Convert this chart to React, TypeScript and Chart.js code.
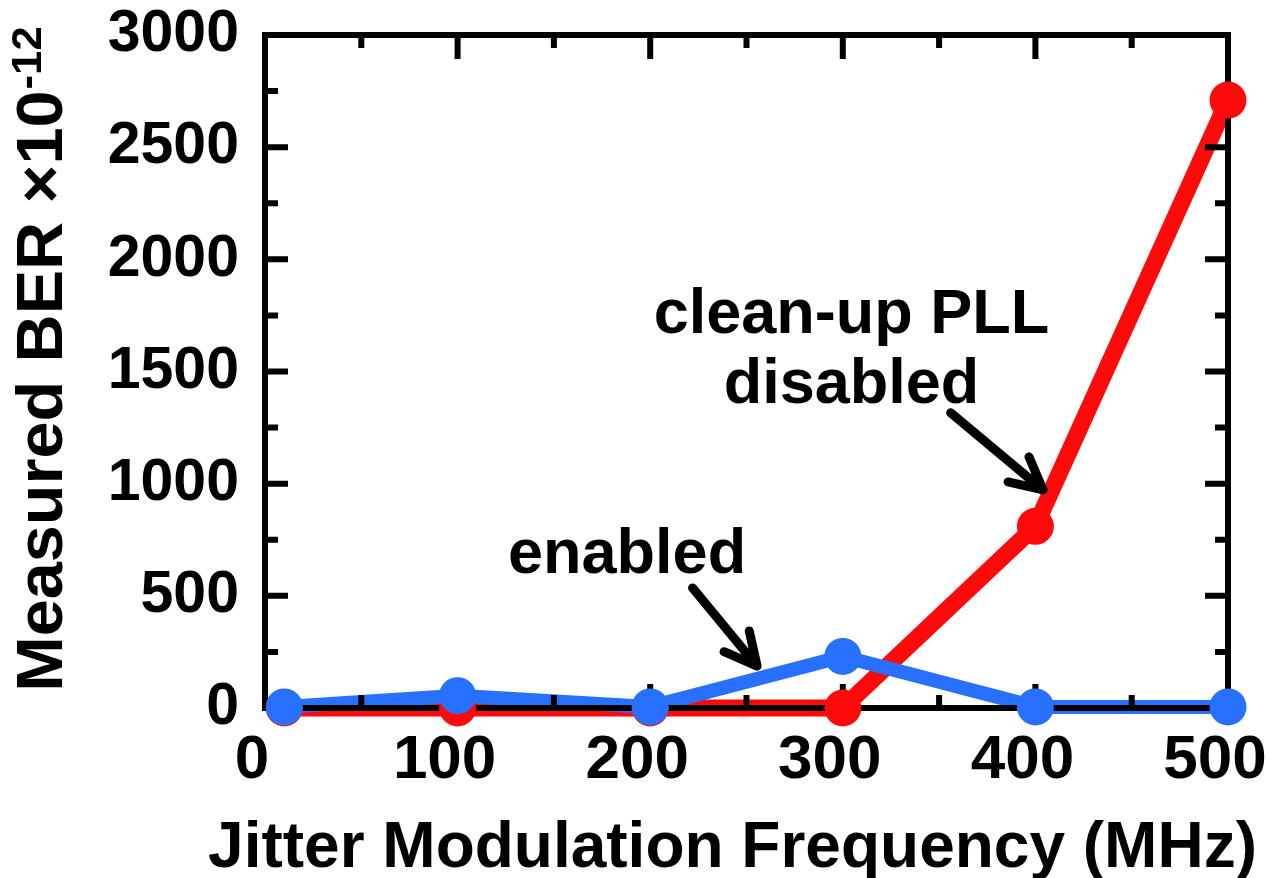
import React, { useEffect, useRef } from "react";
import { Chart, registerables } from "chart.js";

Chart.register(...registerables);

// ---- data ----
const frequencies = [10, 100, 200, 300, 400, 500];
const berDisabled = [0, 0, 0, 0, 810, 2710];
const berEnabled = [5, 55, 5, 230, 5, 5];
const xTickValues = [0, 100, 200, 300, 400, 500];
const yTickValues = [0, 500, 1000, 1500, 2000, 2500, 3000];
const xTitle = "Jitter Modulation Frequency (MHz)";
const yTitleMain = "Measured BER \u00d710";
const yTitleSup = "-12";
const disabledLabelLines = ["clean-up PLL", "disabled"];
const enabledLabelLines = ["enabled"];

// annotation anchors, in data units
const disabledTextAnchor = { x: 304.5, y: 1673 };
const disabledArrowFrom = { x: 356, y: 1316 };
const disabledArrowTo = { x: 404, y: 972 };
const enabledTextAnchor = { x: 188, y: 602 };
const enabledArrowFrom = { x: 222, y: 535 };
const enabledArrowTo = { x: 255.5, y: 187 };

const RED = "#ff0a0a";
const BLUE = "#2870ff";
const FONT = '"Liberation Sans", Arial, Helvetica, sans-serif';

function drawArrow(ctx: CanvasRenderingContext2D, x1: number, y1: number, x2: number, y2: number) {
  const ang = Math.atan2(y1 - y2, x1 - x2);
  const len = 36;
  const spread = (27 * Math.PI) / 180;
  ctx.beginPath();
  ctx.moveTo(x1, y1);
  ctx.lineTo(x2, y2);
  ctx.moveTo(x2 + len * Math.cos(ang + spread), y2 + len * Math.sin(ang + spread));
  ctx.lineTo(x2, y2);
  ctx.lineTo(x2 + len * Math.cos(ang - spread), y2 + len * Math.sin(ang - spread));
  ctx.stroke();
}

const framePlugin = {
  id: "frameTicks",
  afterDatasetDraw(chart: any, args: any) {
    if (args.index !== 1) return;
    const { ctx, chartArea: a, scales } = chart;
    const x = scales.x;
    const y = scales.y;
    ctx.save();
    ctx.strokeStyle = "#000";
    ctx.lineWidth = 6;
    ctx.lineJoin = "miter";
    ctx.lineCap = "butt";
    ctx.strokeRect(a.left, a.top, a.right - a.left, a.bottom - a.top);
    for (let v = 50; v < 500; v += 50) {
      const px = x.getPixelForValue(v);
      const len = v % 100 === 0 ? 24 : 13;
      ctx.beginPath();
      ctx.moveTo(px, a.bottom);
      ctx.lineTo(px, a.bottom - len);
      ctx.moveTo(px, a.top);
      ctx.lineTo(px, a.top + len);
      ctx.stroke();
    }
    for (let v = 250; v < 3000; v += 250) {
      const py = y.getPixelForValue(v);
      const len = v % 500 === 0 ? 23 : 13;
      ctx.beginPath();
      ctx.moveTo(a.left, py);
      ctx.lineTo(a.left + len, py);
      ctx.moveTo(a.right, py);
      ctx.lineTo(a.right - len, py);
      ctx.stroke();
    }
    ctx.restore();
  },
};

const annotationPlugin = {
  id: "annotationsAndTitles",
  afterDraw(chart: any) {
    const { ctx, chartArea: a, scales } = chart;
    const x = scales.x;
    const y = scales.y;
    ctx.save();
    ctx.fillStyle = "#000";
    ctx.strokeStyle = "#000";

    // x title
    ctx.font = `bold 64px ${FONT}`;
    ctx.textAlign = "center";
    ctx.textBaseline = "alphabetic";
    ctx.fillText(xTitle, (a.left + a.right) / 2 - 14, a.bottom + 159);

    // y title (rotated, with superscript)
    const mainFont = `bold 64px ${FONT}`;
    const supFont = `bold 42px ${FONT}`;
    ctx.font = mainFont;
    const wMain = ctx.measureText(yTitleMain).width;
    ctx.font = supFont;
    const wSup = ctx.measureText(yTitleSup).width;
    const stretch = 1.04;
    const total = (wMain + wSup) * stretch;
    ctx.save();
    ctx.translate(62, (a.top + a.bottom) / 2 - 12);
    ctx.rotate(-Math.PI / 2);
    ctx.scale(stretch, 1);
    ctx.textAlign = "left";
    ctx.font = mainFont;
    const start = -total / 2 / stretch;
    ctx.fillText(yTitleMain, start, 0);
    ctx.font = supFont;
    ctx.fillText(yTitleSup, start + wMain + 1, -21);
    ctx.restore();

    // annotations
    ctx.font = `bold 63px ${FONT}`;
    ctx.textAlign = "center";
    const dx = x.getPixelForValue(disabledTextAnchor.x);
    const dy = y.getPixelForValue(disabledTextAnchor.y);
    disabledLabelLines.forEach((t, i) => ctx.fillText(t, dx, dy + i * 70));
    const ex = x.getPixelForValue(enabledTextAnchor.x);
    const ey = y.getPixelForValue(enabledTextAnchor.y);
    enabledLabelLines.forEach((t, i) => ctx.fillText(t, ex, ey + i * 70));

    ctx.lineWidth = 9;
    ctx.lineCap = "round";
    ctx.lineJoin = "round";
    drawArrow(
      ctx,
      x.getPixelForValue(disabledArrowFrom.x),
      y.getPixelForValue(disabledArrowFrom.y),
      x.getPixelForValue(disabledArrowTo.x),
      y.getPixelForValue(disabledArrowTo.y)
    );
    drawArrow(
      ctx,
      x.getPixelForValue(enabledArrowFrom.x),
      y.getPixelForValue(enabledArrowFrom.y),
      x.getPixelForValue(enabledArrowTo.x),
      y.getPixelForValue(enabledArrowTo.y)
    );
    ctx.restore();
  },
};

export default function App() {
  const canvasRef = useRef<HTMLCanvasElement | null>(null);

  useEffect(() => {
    document.body.style.margin = "0";
    const canvas = canvasRef.current;
    if (!canvas) return;
    const toPoints = (vals: number[]) => frequencies.map((f, i) => ({ x: f, y: vals[i] }));
    const chart = new Chart(canvas, {
      type: "line",
      data: {
        datasets: [
          {
            label: "clean-up PLL disabled",
            data: toPoints(berDisabled),
            borderColor: RED,
            borderWidth: 17,
            pointRadius: 0,
            tension: 0,
            clip: false,
            order: 4,
          },
          {
            label: "enabled",
            data: toPoints(berEnabled),
            borderColor: BLUE,
            borderWidth: 14,
            pointRadius: 0,
            tension: 0,
            clip: false,
            order: 3,
          },
          {
            label: "disabled points",
            data: toPoints(berDisabled),
            showLine: false,
            pointRadius: 18.5,
            pointBackgroundColor: RED,
            pointBorderWidth: 0,
            borderColor: RED,
            clip: false,
            order: 2,
          },
          {
            label: "enabled points",
            data: toPoints(berEnabled),
            showLine: false,
            pointRadius: 18.5,
            pointBackgroundColor: BLUE,
            pointBorderWidth: 0,
            borderColor: BLUE,
            clip: false,
            order: 1,
          },
        ],
      },
      options: {
        responsive: false,
        maintainAspectRatio: false,
        devicePixelRatio: 1,
        animation: false,
        events: [],
        layout: { padding: { top: 35, right: 43, left: 0, bottom: 0 } },
        plugins: { legend: { display: false }, tooltip: { enabled: false } },
        scales: {
          x: {
            type: "linear",
            min: 0,
            max: 500,
            afterBuildTicks: (s: any) => {
              s.ticks = xTickValues.map((v) => ({ value: v }));
            },
            afterFit: (s: any) => {
              s.height = 170;
              s.paddingLeft = 0;
              s.paddingRight = 0;
            },
            grid: { display: false, drawTicks: false },
            border: { display: false },
            ticks: {
              color: "#000",
              font: { family: FONT, size: 62, weight: "bold", lineHeight: 1 },
              padding: 22,
              labelOffset: -13,
              maxRotation: 0,
              autoSkip: false,
              callback: (v: any) => String(v),
            },
          },
          y: {
            type: "linear",
            min: 0,
            max: 3000,
            afterBuildTicks: (s: any) => {
              s.ticks = yTickValues.map((v) => ({ value: v }));
            },
            afterFit: (s: any) => {
              s.width = 265;
              s.paddingTop = 0;
              s.paddingBottom = 0;
            },
            grid: { display: false, drawTicks: false },
            border: { display: false },
            ticks: {
              color: "#000",
              font: { family: FONT, size: 59, weight: "bold", lineHeight: 1 },
              padding: 26,
              autoSkip: false,
              callback: (v: any) => String(v),
            },
          },
        },
      },
      plugins: [framePlugin, annotationPlugin],
    } as any);
    return () => chart.destroy();
  }, []);

  return (
    <div style={{ width: 1271, height: 878 }}>
      <canvas ref={canvasRef} width={1271} height={878} style={{ display: "block" }} />
    </div>
  );
}
